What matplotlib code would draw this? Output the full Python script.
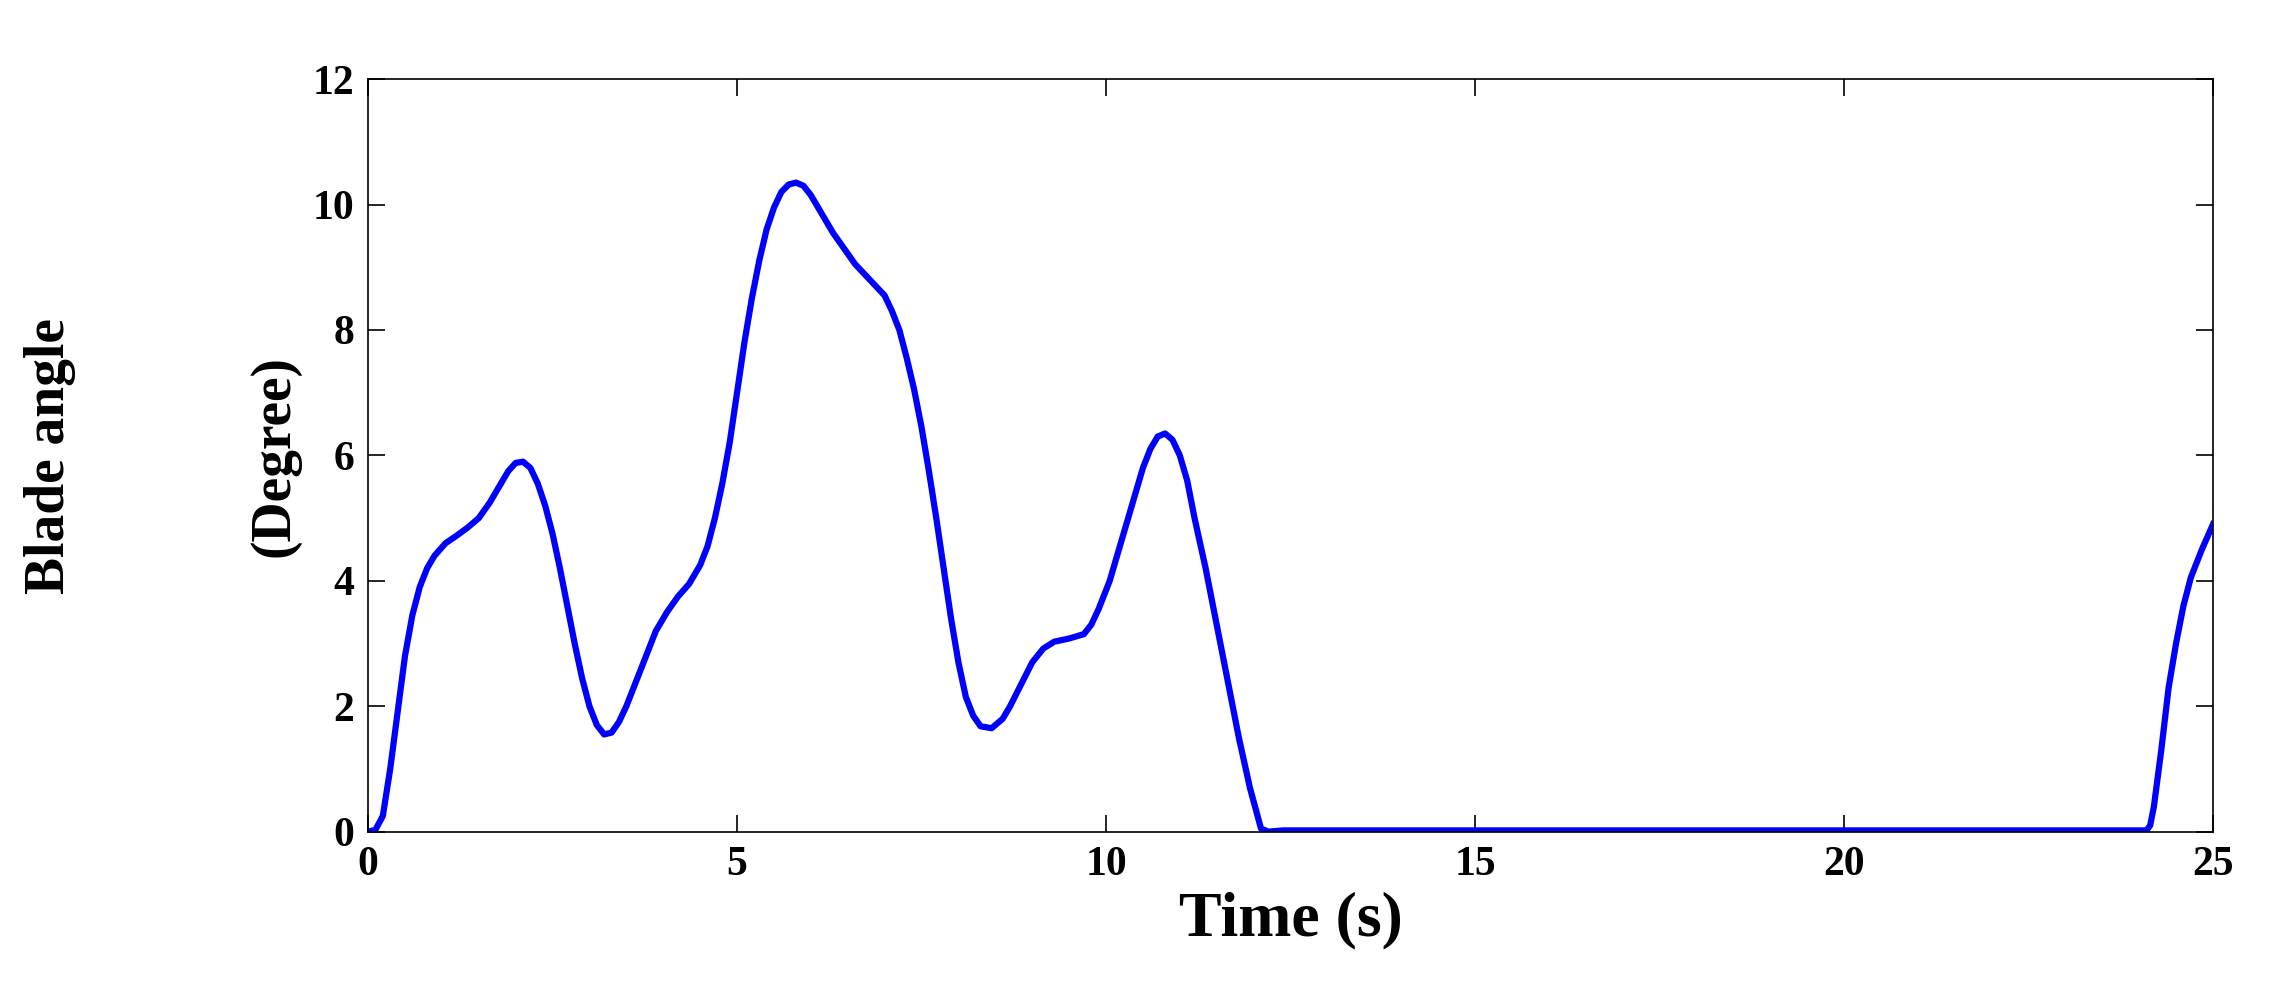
import matplotlib.pyplot as plt
import numpy as np

t = [0, 0.1, 0.2, 0.3, 0.4, 0.5, 0.6, 0.7, 0.8, 0.9, 1.05, 1.2, 1.35, 1.5, 1.65, 1.8, 1.9, 2.0,
     2.1, 2.2, 2.3, 2.4, 2.5, 2.6, 2.7, 2.8, 2.9, 3.0, 3.1, 3.2, 3.3, 3.4, 3.5, 3.6, 3.75,
     3.9, 4.05, 4.2, 4.35, 4.5, 4.6, 4.7, 4.8, 4.9, 5.0, 5.1, 5.2, 5.3, 5.4, 5.5, 5.6, 5.7,
     5.8, 5.9, 6.0, 6.1, 6.2, 6.3, 6.45, 6.6, 6.8, 7.0, 7.1, 7.2, 7.3, 7.4, 7.5, 7.6, 7.7,
     7.8, 7.9, 8.0, 8.1, 8.2, 8.3, 8.45, 8.6, 8.7, 8.85, 9.0, 9.15, 9.3, 9.5, 9.7, 9.8, 9.9,
     10.05, 10.2, 10.35, 10.5, 10.6, 10.7, 10.8, 10.9, 11.0, 11.1, 11.2, 11.35, 11.5, 11.65,
     11.8, 11.95, 12.1, 12.2, 12.4, 24.1, 24.15, 24.2, 24.3, 24.4, 24.5, 24.6, 24.7, 24.85, 25.0]
angle = [0, 0.03, 0.25, 1.0, 1.9, 2.8, 3.45, 3.9, 4.2, 4.4, 4.6, 4.72, 4.85, 5.0, 5.25, 5.55, 5.75, 5.88,
         5.9, 5.8, 5.55, 5.2, 4.75, 4.2, 3.6, 3.0, 2.45, 2.0, 1.7, 1.55, 1.58, 1.75, 2.0, 2.3, 2.75,
         3.2, 3.5, 3.75, 3.95, 4.25, 4.55, 5.0, 5.55, 6.2, 7.0, 7.8, 8.5, 9.1, 9.6, 9.95, 10.2, 10.32,
         10.35, 10.3, 10.15, 9.95, 9.75, 9.55, 9.3, 9.05, 8.8, 8.55, 8.3, 8.0, 7.55, 7.05, 6.45, 5.75, 5.0,
         4.2, 3.4, 2.7, 2.15, 1.85, 1.68, 1.65, 1.8, 2.0, 2.35, 2.7, 2.92, 3.03, 3.08, 3.15, 3.3, 3.55,
         4.0, 4.6, 5.2, 5.8, 6.1, 6.3, 6.35, 6.25, 6.0, 5.6, 5.0, 4.2, 3.3, 2.4,
         1.5, 0.7, 0.05, 0.0, 0.02, 0.02, 0.1, 0.4, 1.3, 2.3, 3.0, 3.6, 4.05, 4.5, 4.9]

plt.rcParams['font.family'] = 'Liberation Serif'
plt.rcParams['font.weight'] = 'bold'

fig = plt.figure(figsize=(22.72, 10.02), dpi=100)
ax = fig.add_axes([0.162, 0.17, 0.812, 0.751])
ax.plot(t, angle, color='#0000ff', linewidth=4.5)
ax.set_xlim(0, 25)
ax.set_ylim(0, 12)
ax.set_xticks([0, 5, 10, 15, 20, 25])
ax.set_yticks(np.arange(0, 13, 2))
ax.tick_params(direction='in', top=True, right=True, labelsize=30, length=12, width=1.2, pad=10)
for s in ax.spines.values():
    s.set_linewidth(1.2)
ax.set_xlabel('Time (s)', fontsize=46, fontweight='bold', labelpad=6)
fig.text(0.022, 0.545, 'Blade angle', rotation=90, fontsize=40, fontweight='bold', va='center', ha='center')
fig.text(0.121, 0.545, '(Degree)', rotation=90, fontsize=40, fontweight='bold', va='center', ha='center')

plt.savefig('out.png', dpi=100)
